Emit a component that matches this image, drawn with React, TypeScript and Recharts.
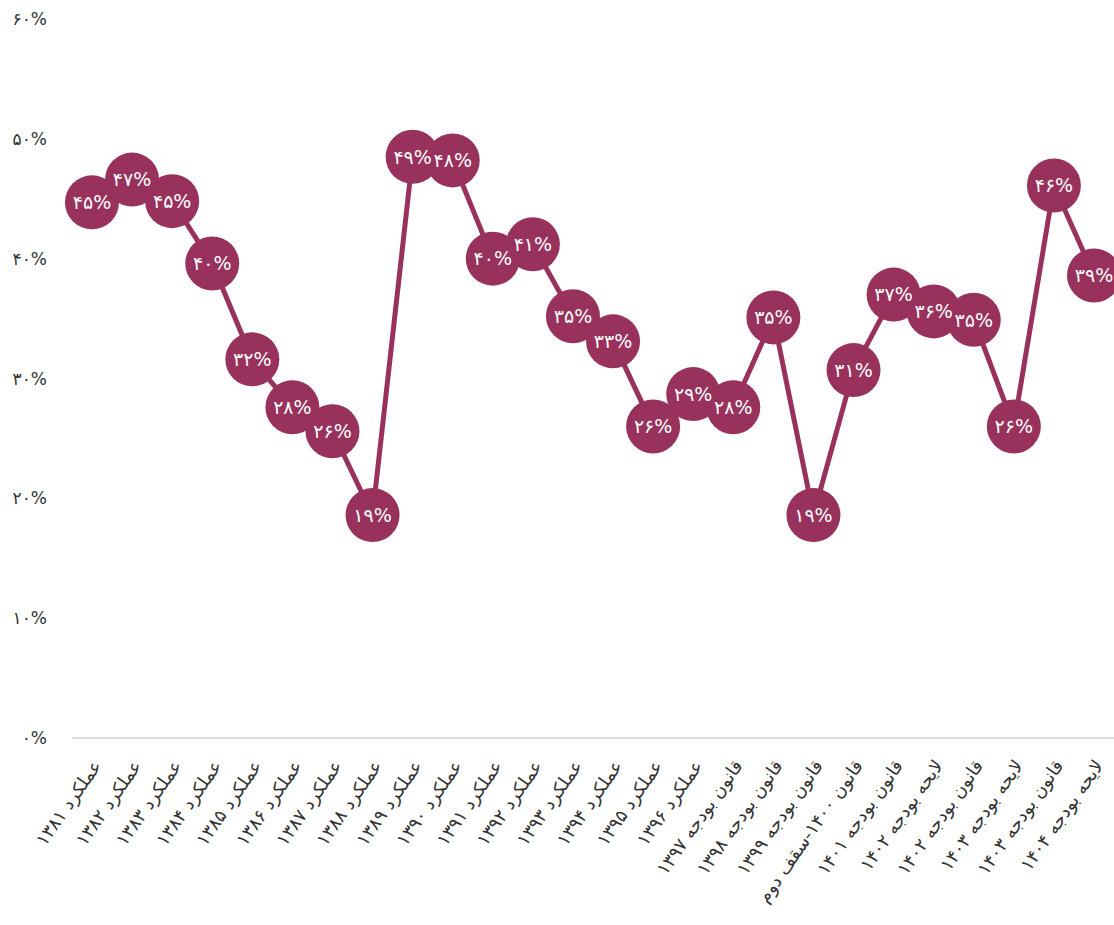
import { LineChart, Line, XAxis, YAxis, LabelList } from 'recharts';

const categories = [
  'عملکرد ۱۳۸۱',
  'عملکرد ۱۳۸۲',
  'عملکرد ۱۳۸۳',
  'عملکرد ۱۳۸۴',
  'عملکرد ۱۳۸۵',
  'عملکرد ۱۳۸۶',
  'عملکرد ۱۳۸۷',
  'عملکرد ۱۳۸۸',
  'عملکرد ۱۳۸۹',
  'عملکرد ۱۳۹۰',
  'عملکرد ۱۳۹۱',
  'عملکرد ۱۳۹۲',
  'عملکرد ۱۳۹۳',
  'عملکرد ۱۳۹۴',
  'عملکرد ۱۳۹۵',
  'عملکرد ۱۳۹۶',
  'قانون بودجه ۱۳۹۷',
  'قانون بودجه ۱۳۹۸',
  'قانون بودجه ۱۳۹۹',
  'قانون ۱۴۰۰-سقف دوم',
  'قانون بودجه ۱۴۰۱',
  'لایحه بودجه ۱۴۰۲',
  'قانون بودجه ۱۴۰۲',
  'لایحه بودجه ۱۴۰۳',
  'قانون بودجه ۱۴۰۳',
  'لایحه بودجه ۱۴۰۴',
];

const shares = [
  44.7, 46.6, 44.8, 39.6, 31.6, 27.6, 25.6, 18.6, 48.5, 48.2, 40.0, 41.2, 35.2,
  33.1, 26.0, 28.7, 27.6, 35.1, 18.6, 30.7, 37.0, 35.6, 34.9, 26.0, 46.1, 38.6,
];

const yTicks = [0, 10, 20, 30, 40, 50, 60];

const data = categories.map((label, i) => ({ label, value: shares[i] }));

const COLOR = '#98325D';
const FONT = "'DejaVu Sans', sans-serif";

const faDigits = (s: string) => s.replace(/\d/g, (d) => '۰۱۲۳۴۵۶۷۸۹'[Number(d)]);
const pct = (v: number) => faDigits(String(Math.round(v))) + '%';

const XTick = ({ x, y, payload }: any) => {
  const tx = x + 5;
  const ty = y + 22;
  return (
    <text
      x={tx}
      y={ty}
      dy="0.35em"
      textAnchor="end"
      transform={`rotate(-55, ${tx}, ${ty})`}
      fontSize={18}
      fontFamily={FONT}
      fill="#333"
    >
      {payload.value}
    </text>
  );
};

const App = () => (
  <div style={{ position: 'absolute', left: 0, top: 0, width: 1114, height: 925, background: '#fff' }}>
    <LineChart width={1114} height={925} data={data} margin={{ top: 19, right: 0, bottom: 0, left: 0 }}>
      <XAxis
        dataKey="label"
        interval={0}
        height={187}
        padding={{ left: 20, right: 20 }}
        tickLine={false}
        tickSize={0}
        axisLine={{ stroke: '#dcdcdc', strokeWidth: 2 }}
        tick={<XTick />}
      />
      <YAxis
        width={72}
        domain={[0, 60]}
        ticks={yTicks}
        axisLine={false}
        tickLine={false}
        tickSize={0}
        tickMargin={25}
        tickFormatter={(v) => pct(v)}
        tick={{ fontSize: 17, fill: '#333', fontFamily: FONT }}
      />
      <Line
        dataKey="value"
        stroke={COLOR}
        strokeWidth={5}
        dot={{ r: 27, fill: COLOR, stroke: 'none' }}
        activeDot={false}
        isAnimationActive={false}
      >
        <LabelList
          dataKey="value"
          position="center"
          formatter={(v: any) => pct(Number(v))}
          fill="#fff"
          fontSize={19}
          fontFamily={FONT}
        />
      </Line>
    </LineChart>
  </div>
);

export default App;
